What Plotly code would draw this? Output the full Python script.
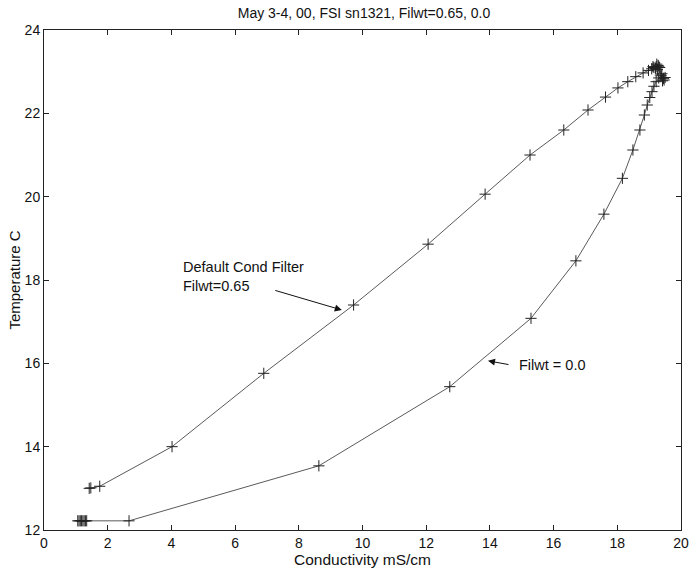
import plotly.graph_objects as go

# Temperature vs conductivity, FSI sn1321, May 3-4 2000, two conductivity filter weights
filt065_cond = [1.42, 1.47, 1.75, 4.02, 6.90, 9.72, 12.06, 13.85, 15.26, 16.32, 17.08, 17.63,
                18.02, 18.33, 18.58, 18.81, 18.98, 19.08, 19.15, 19.22, 19.28, 19.20,
                19.30, 19.26, 19.12, 19.33, 19.24]
filt065_temp = [13.00, 13.01, 13.05, 14.00, 15.76, 17.40, 18.86, 20.06, 21.00, 21.60, 22.08, 22.39,
                22.61, 22.76, 22.88, 22.97, 23.03, 23.07, 23.10, 23.12, 23.15, 23.08,
                23.13, 23.05, 23.12, 23.10, 23.18]

filt000_cond = [1.06, 1.10, 1.14, 1.18, 1.22, 1.26, 1.30, 1.34, 2.67, 8.63, 12.74, 15.29,
                16.70, 17.58, 18.16, 18.49, 18.71, 18.85, 18.94, 19.02, 19.09, 19.15,
                19.22, 19.30, 19.38, 19.45, 19.40, 19.47, 19.35, 19.42, 19.50]
filt000_temp = [12.22, 12.22, 12.22, 12.22, 12.22, 12.22, 12.22, 12.22, 12.22, 13.54, 15.44,
                17.08, 18.46, 19.58, 20.44, 21.12, 21.60, 21.96, 22.20, 22.38, 22.52,
                22.65, 22.76, 22.85, 22.90, 22.84, 22.95, 22.80, 22.92, 22.78, 22.86]

x_ticks = [0, 2, 4, 6, 8, 10, 12, 14, 16, 18, 20]
y_ticks = [12, 14, 16, 18, 20, 22, 24]

FONT = "Liberation Sans, Arial, sans-serif"
INK = "#111111"

fig = go.Figure()
for xs, ys, name in [(filt065_cond, filt065_temp, "Filwt=0.65"),
                     (filt000_cond, filt000_temp, "Filwt=0.0")]:
    fig.add_trace(go.Scatter(
        x=xs, y=ys, name=name, mode="lines+markers",
        line=dict(color="#5a5a5a", width=1),
        marker=dict(symbol="cross-thin", size=8,
                    line=dict(color="#222222", width=1)),
        showlegend=False,
    ))

# Labels with pointer arrows
fig.add_annotation(x=4.30, y=18.08, xref="x", yref="y", xanchor="left", yanchor="middle",
                   text="Default Cond Filter<br>Filwt=0.65", align="left", showarrow=False,
                   font=dict(family=FONT, size=14.5, color=INK))
fig.add_annotation(x=9.35, y=17.28, xref="x", yref="y", text="", showarrow=True,
                   ax=-68, ay=-20, arrowhead=2, arrowsize=1.4, arrowwidth=1,
                   arrowcolor=INK)
fig.add_annotation(x=14.85, y=15.96, xref="x", yref="y", xanchor="left", yanchor="middle",
                   text="Filwt = 0.0", showarrow=False,
                   font=dict(family=FONT, size=14.5, color=INK))
fig.add_annotation(x=13.94, y=16.06, xref="x", yref="y", text="", showarrow=True,
                   ax=22, ay=4, arrowhead=2, arrowsize=1.4, arrowwidth=1,
                   arrowcolor=INK)

axis_common = dict(
    showgrid=False, zeroline=False, showline=True, linecolor="#222222", linewidth=1,
    mirror="ticks", ticks="inside", ticklen=5, tickcolor="#222222",
    tickfont=dict(family=FONT, size=14, color=INK),
    automargin=False, ticklabeloverflow="allow",
)

fig.update_layout(
    width=690, height=571,
    margin=dict(l=44, r=9, t=30, b=41),
    paper_bgcolor="white", plot_bgcolor="white",
    title=dict(text="May 3-4, 00, FSI sn1321, Filwt=0.65, 0.0",
               x=364 / 690, xanchor="center", y=1 - 13 / 571, yanchor="middle",
               font=dict(family=FONT, size=14, color=INK)),
    xaxis=dict(range=[0, 20], tickvals=x_ticks,
               title=dict(text="Conductivity mS/cm", standoff=3,
                          font=dict(family=FONT, size=15.5, color=INK)),
               **axis_common),
    yaxis=dict(range=[12, 24], tickvals=y_ticks,
               title=dict(text="Temperature C", standoff=0,
                          font=dict(family=FONT, size=15, color=INK)),
               **axis_common),
)

fig.write_html("out.html")
